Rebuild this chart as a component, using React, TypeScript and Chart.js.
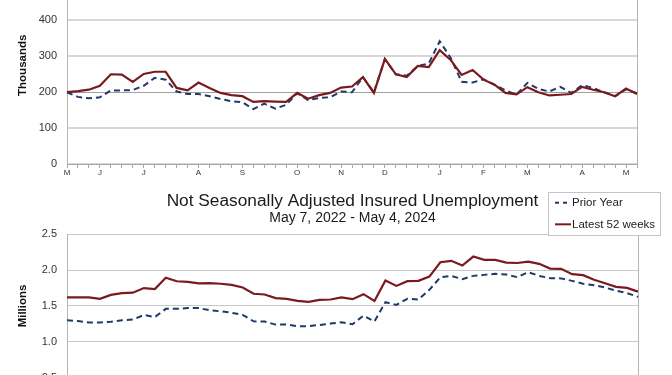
import React, { useEffect, useRef } from 'react';
import { Chart, registerables } from 'chart.js';

Chart.register(...registerables);

const FONT = '"Liberation Sans", Arial, sans-serif';

// 53 weekly points (week 0 .. week 52)
const WEEK_COUNT = 53;
const monthTickWeeks = [0, 3, 7, 12, 16, 21, 25, 29, 34, 38, 42, 47, 51];
const monthTickLetters = ['M', 'J', 'J', 'A', 'S', 'O', 'N', 'D', 'J', 'F', 'M', 'A', 'M'];

const seriesNames = ['Prior Year', 'Latest 52 weeks'];

// Top chart (Thousands)
const claimsPriorYear = [
  200, 187, 183, 186, 205, 205, 206, 218, 240, 235, 202, 195, 195, 189, 181, 175, 172, 153, 168, 154,
  165, 197, 178, 184, 186, 202, 200, 242, 200, 292, 250, 246, 273, 280, 342, 296, 229, 227, 236, 221,
  205, 193, 226, 209, 202, 215, 198, 220, 212, 200, 189, 208, 197,
];
const claimsLatest = [
  200, 203, 207, 218, 250, 249, 229, 251, 257, 257, 212, 205, 227, 212, 198, 192, 189, 173, 175, 174,
  173, 198, 182, 192, 198, 213, 216, 242, 198, 293, 250, 242, 273, 270, 317, 290, 248, 262, 235, 221,
  198, 194, 214, 200, 191, 193, 195, 215, 207, 200, 189, 210, 195,
];
const claimsTickValues = [0, 100, 200, 300, 400, 500];

// Bottom chart (Millions)
const insuredPriorYear = [
  1.30, 1.29, 1.27, 1.27, 1.28, 1.30, 1.31, 1.375, 1.345, 1.46, 1.46, 1.47, 1.47, 1.44, 1.425, 1.405, 1.375, 1.285,
  1.283, 1.24, 1.24, 1.218, 1.218, 1.235, 1.254, 1.274, 1.245, 1.366, 1.283, 1.553, 1.515, 1.60, 1.59, 1.725, 1.90,
  1.92, 1.874, 1.92, 1.934, 1.948, 1.94, 1.902, 1.972, 1.92, 1.888, 1.885, 1.85, 1.81, 1.79, 1.757, 1.715, 1.68, 1.627,
];
const insuredLatest = [
  1.62, 1.62, 1.62, 1.60, 1.655, 1.68, 1.685, 1.75, 1.735, 1.895, 1.845, 1.835, 1.815, 1.818, 1.81, 1.795, 1.757, 1.67,
  1.66, 1.61, 1.60, 1.57, 1.557, 1.585, 1.59, 1.62, 1.595, 1.665, 1.57, 1.855, 1.78, 1.846, 1.85, 1.91, 2.11,
  2.13, 2.064, 2.19, 2.144, 2.144, 2.106, 2.10, 2.12, 2.088, 2.022, 2.018, 1.944, 1.93, 1.865, 1.818, 1.767, 1.753, 1.70,
];
const insuredTickValues = [0.5, 1.0, 1.5, 2.0, 2.5];

const insuredTitle = 'Not Seasonally Adjusted Insured Unemployment';
const insuredSubtitle = 'May 7, 2022 - May 4, 2024';

const PRIOR_COLOR = '#1f3a68';
const LATEST_COLOR = '#7b1a1d';

function buildWeekLabels(): string[] {
  const labels: string[] = [];
  for (let i = 0; i < WEEK_COUNT; i++) labels.push('');
  monthTickWeeks.forEach((w, k) => {
    labels[w] = monthTickLetters[k];
  });
  return labels;
}

function makeDatasets(prior: number[], latest: number[]) {
  return [
    {
      label: seriesNames[0],
      data: prior,
      borderColor: PRIOR_COLOR,
      backgroundColor: PRIOR_COLOR,
      borderWidth: 2,
      borderDash: [6, 4],
      pointRadius: 0,
      tension: 0,
      fill: false,
      order: 2,
    },
    {
      label: seriesNames[1],
      data: latest,
      borderColor: LATEST_COLOR,
      backgroundColor: LATEST_COLOR,
      borderWidth: 2.2,
      pointRadius: 0,
      tension: 0,
      fill: false,
      order: 1,
    },
  ];
}

function xScale() {
  return {
    type: 'category',
    offset: false,
    grid: {
      display: true,
      drawOnChartArea: false,
      drawTicks: true,
      tickLength: 4,
      color: '#a8a8a8',
      lineWidth: 1,
      offset: false,
    },
    border: { display: true, color: '#a8a8a8', width: 1 },
    ticks: {
      autoSkip: false,
      maxRotation: 0,
      minRotation: 0,
      padding: 0,
      font: { family: FONT, size: 8 },
      color: '#333',
    },
    afterFit(scale: any) {
      scale.height = 20;
    },
  };
}

function rightBorderScale() {
  return {
    type: 'linear',
    position: 'right',
    ticks: { display: false },
    grid: { display: true, drawOnChartArea: false, drawTicks: false },
    border: { display: true, color: '#b4b4b4', width: 1 },
    afterFit(scale: any) {
      scale.width = 0;
    },
  };
}

const boxLegendPlugin = {
  id: 'boxLegend',
  afterDraw(chart: any) {
    const { ctx, chartArea } = chart;
    const right = chartArea.right;
    const top = chartArea.top;
    const x0 = Math.round(right - 90) + 0.5;
    const y0 = Math.round(top - 42.5) + 0.5;
    ctx.save();
    ctx.fillStyle = '#ffffff';
    ctx.fillRect(x0, y0, 112, 43);
    ctx.strokeStyle = '#c4c4c4';
    ctx.lineWidth = 1;
    ctx.strokeRect(x0, y0, 112, 43);
    chart.data.datasets.forEach((ds: any, k: number) => {
      const y = top - 31.6 + k * 21.6;
      ctx.beginPath();
      ctx.setLineDash(ds.borderDash ? [4, 4] : []);
      ctx.strokeStyle = ds.borderColor;
      ctx.lineWidth = 2;
      ctx.moveTo(right - 83, y);
      ctx.lineTo(right - 67, y);
      ctx.stroke();
      ctx.setLineDash([]);
      ctx.fillStyle = '#222';
      ctx.font = '11.5px ' + FONT;
      ctx.textBaseline = 'middle';
      ctx.textAlign = 'left';
      ctx.fillText(ds.label, right - 66, y);
    });
    ctx.restore();
  },
};

export default function App() {
  const topRef = useRef<HTMLCanvasElement | null>(null);
  const bottomRef = useRef<HTMLCanvasElement | null>(null);

  useEffect(() => {
    const labels = buildWeekLabels();

    const topChart = new Chart(topRef.current as HTMLCanvasElement, {
      type: 'line',
      data: { labels, datasets: makeDatasets(claimsPriorYear, claimsLatest) as any },
      options: {
        responsive: false,
        animation: false,
        devicePixelRatio: 1,
        layout: { padding: { top: 13.25, right: 35, bottom: 0, left: 0 } },
        plugins: { legend: { display: false }, tooltip: { enabled: false }, title: { display: false } },
        scales: {
          x: xScale() as any,
          y: {
            type: 'linear',
            min: 0,
            max: 550,
            afterBuildTicks(scale: any) {
              scale.ticks = claimsTickValues.map((v) => ({ value: v }));
            },
            ticks: { padding: 10, font: { family: FONT, size: 11 }, color: '#333' },
            grid: {
              drawTicks: false,
              color: (c: any) => (c.tick && c.tick.value === 200 ? '#a0a0a0' : '#d8d8d8'),
              lineWidth: (c: any) => (c.tick && c.tick.value === 200 ? 1 : 2),
            },
            border: { display: true, color: '#b4b4b4', width: 1 },
            title: {
              display: true,
              text: 'Thousands',
              color: '#111',
              font: { family: FONT, size: 11.5, weight: 'bold' },
              padding: { top: 16, bottom: 0 },
            },
            afterFit(scale: any) {
              scale.width = 67;
            },
          } as any,
          y2: rightBorderScale() as any,
        },
      },
    });

    const bottomChart = new Chart(bottomRef.current as HTMLCanvasElement, {
      type: 'line',
      data: { labels, datasets: makeDatasets(insuredPriorYear, insuredLatest) as any },
      options: {
        responsive: false,
        animation: false,
        devicePixelRatio: 1,
        layout: { padding: { top: 0, right: 34, bottom: 2.4, left: 0 } },
        plugins: {
          legend: { display: false },
          tooltip: { enabled: false },
          title: {
            display: true,
            text: insuredTitle,
            fullSize: false,
            color: '#1a1a1a',
            font: { family: FONT, size: 17.3, weight: 'normal', lineHeight: 1.1 },
            padding: { top: 6.5, bottom: 0 },
          },
          subtitle: {
            display: true,
            text: insuredSubtitle,
            fullSize: false,
            color: '#1a1a1a',
            font: { family: FONT, size: 14, weight: 'normal', lineHeight: 1.1 },
            padding: { top: 0, bottom: 8.4 },
          },
        },
        scales: {
          x: xScale() as any,
          y: {
            type: 'linear',
            min: 0.5,
            max: 2.5,
            afterBuildTicks(scale: any) {
              scale.ticks = insuredTickValues.map((v) => ({ value: v }));
            },
            ticks: {
              padding: 10,
              font: { family: FONT, size: 11 },
              color: '#333',
              callback: (v: any) => Number(v).toFixed(1),
            },
            grid: { drawTicks: false, color: '#c8c8c8', lineWidth: 1 },
            border: { display: true, color: '#b4b4b4', width: 1 },
            title: {
              display: true,
              text: 'Millions',
              color: '#111',
              font: { family: FONT, size: 11.5, weight: 'bold' },
              padding: { top: 16, bottom: 0 },
            },
            afterFit(scale: any) {
              scale.width = 67;
            },
          } as any,
          y2: rightBorderScale() as any,
        },
      },
      plugins: [boxLegendPlugin as any],
    });

    return () => {
      topChart.destroy();
      bottomChart.destroy();
    };
  }, []);

  return (
    <div
      style={{
        position: 'fixed',
        left: 0,
        top: 0,
        width: 672,
        height: 375,
        overflow: 'hidden',
        background: '#ffffff',
      }}
    >
      <canvas
        ref={topRef}
        width={672}
        height={234}
        style={{ position: 'absolute', left: 0, top: -50, width: 672, height: 234 }}
      />
      <canvas
        ref={bottomRef}
        width={672}
        height={215}
        style={{ position: 'absolute', left: 0, top: 185, width: 672, height: 215 }}
      />
    </div>
  );
}
